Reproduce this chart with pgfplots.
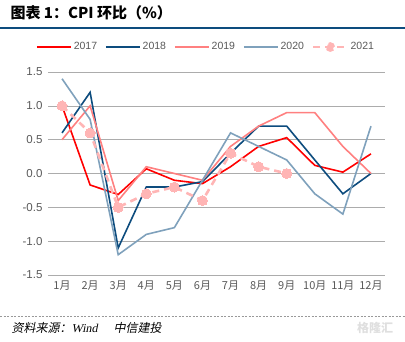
\documentclass[border=0pt]{standalone}
\usepackage{fontspec}
\setmainfont{Liberation Sans}
\newfontfamily\cjk{Noto Sans CJK SC}
\newfontfamily\cjkit[FakeSlant=0.2]{Noto Sans CJK SC}
\newfontfamily\serifit[FakeSlant=0.2]{Liberation Serif}
\usepackage{pgfplots}
\pgfplotsset{compat=1.18}
\definecolor{c17}{HTML}{FF0000}
\definecolor{c18}{HTML}{0D4C7E}
\definecolor{c19}{HTML}{FF8080}
\definecolor{c20}{HTML}{7FA1BC}
\definecolor{c21}{HTML}{FFB5B5}
\definecolor{ttl}{HTML}{0D4C7E}
\definecolor{tk}{HTML}{595959}
\begin{document}
\begin{tikzpicture}
\path[use as bounding box] (0,0) rectangle (405pt,341pt);
\begin{axis}[
  at={(48pt,66pt)}, anchor=south west,
  scale only axis, width=337pt, height=203pt,
  xmin=0.5, xmax=12.5, ymin=-1.5, ymax=1.5,
  xtick={1,...,12},
  xticklabels={1月,2月,3月,4月,5月,6月,7月,8月,9月,10月,11月,12月},
  xticklabel style={font=\cjk\fontsize{11}{12}\selectfont, text=tk, yshift=-2pt},
  ytick={-1.5,-1,...,1.5},
  yticklabel style={font=\fontsize{11.5}{12}\selectfont, text=tk, xshift=-2pt,
    /pgf/number format/.cd, fixed, fixed zerofill, precision=1, assume math mode=true},
  ymajorgrids, grid style={gray!65, line width=0.5pt},
  axis line style={draw=none}, major tick length=0pt,
  tick align=outside,
  clip=false,
  legend columns=5,
  legend style={at={(0.469,1.123)}, anchor=center, draw=none, fill=none,
    font=\fontsize{10.5}{11}\selectfont, text=tk,
    /tikz/every even column/.append style={column sep=6pt}},
  legend image code/.code={\draw[#1, mark=none] (0pt,0pt) -- (34pt,0pt);},
]
\addplot[c17, line width=1.6pt, mark=none] coordinates {(1,1.0)(2,-0.17)(3,-0.31)(4,0.07)(5,-0.1)(6,-0.15)(7,0.1)(8,0.4)(9,0.53)(10,0.12)(11,0.02)(12,0.29)};
\addlegendentry{2017}
\addplot[c18, line width=1.6pt, mark=none] coordinates {(1,0.6)(2,1.2)(3,-1.1)(4,-0.2)(5,-0.2)(6,-0.12)(7,0.3)(8,0.7)(9,0.7)(10,0.2)(11,-0.3)(12,0.0)};
\addlegendentry{2018}
\addplot[c19, line width=1.6pt, mark=none] coordinates {(1,0.5)(2,1.0)(3,-0.4)(4,0.1)(5,0.0)(6,-0.1)(7,0.4)(8,0.7)(9,0.9)(10,0.9)(11,0.4)(12,0.0)};
\addlegendentry{2019}
\addplot[c20, line width=1.6pt, mark=none] coordinates {(1,1.4)(2,0.8)(3,-1.2)(4,-0.9)(5,-0.8)(6,-0.1)(7,0.6)(8,0.4)(9,0.2)(10,-0.3)(11,-0.6)(12,0.7)};
\addlegendentry{2020}
\addplot[c21, line width=2.6pt, dash pattern=on 7pt off 5pt, mark=*, mark size=5pt, mark options={solid, fill=c21, draw=c21, line width=0pt},
  legend image code/.code={\draw[c21, line width=2.6pt, dash pattern=on 7pt off 5pt] (0pt,0pt) -- (34pt,0pt); \fill[c21] (17pt,0pt) circle (3.5pt);}]
  coordinates {(1,1.0)(2,0.6)(3,-0.5)(4,-0.3)(5,-0.2)(6,-0.4)(7,0.3)(8,0.1)(9,0.0)};
\addlegendentry{2021}
\end{axis}
\node[anchor=west, font=\cjk\bfseries\fontsize{15}{16}\selectfont] at (7pt,328pt) {图表 1：CPI 环比（\%）};
\draw[ttl, line width=1.5pt] (0pt,313pt) -- (405pt,313pt);
\draw[gray!80, line width=0.5pt, dash pattern=on 2pt off 1.5pt] (0pt,25pt) -- (405pt,25pt);
\node[anchor=west, font=\fontsize{12}{13}\selectfont] at (8pt,13pt) {{\cjkit 资料来源：}{\serifit Wind}\hspace{16pt}{\cjkit 中信建投}};
\node[anchor=center, font=\cjk\bfseries\fontsize{12}{13}\selectfont, text=gray!25] at (375pt,13pt) {格隆汇};
\end{tikzpicture}
\end{document}
